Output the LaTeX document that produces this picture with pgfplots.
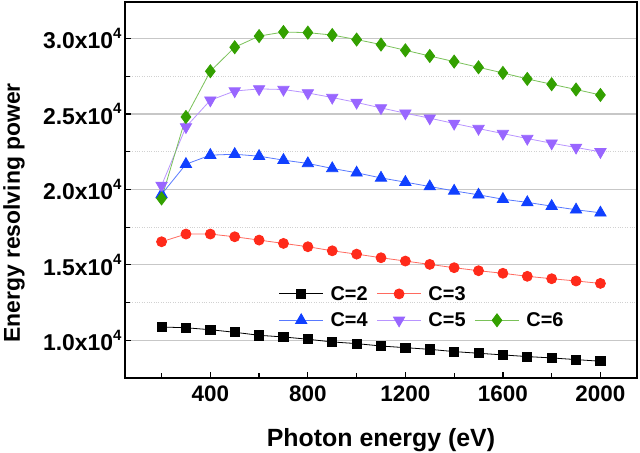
\documentclass[border=0pt]{standalone}
\usepackage{fontspec}
\setmainfont{Liberation Sans}
\usepackage{pgfplots}
\pgfplotsset{compat=1.18}
\definecolor{cred}{HTML}{FF2A1A}
\definecolor{cblue}{HTML}{1040FF}
\definecolor{cpurple}{HTML}{9966FF}
\definecolor{cgreen}{HTML}{33A000}
\newcommand{\sqf}{\raisebox{0.45em}{\fontsize{15}{15}\selectfont\bfseries 4}}
\begin{document}
\begin{tikzpicture}
\begin{axis}[
  name=ax,
  scale only axis,
  width=512bp, height=376bp,
  xmin=50, xmax=2150,
  ymin=7500, ymax=32420,
  xtick={400,800,1200,1600,2000},
  xticklabels={400,800,1200,1600,2000},
  minor xtick={200,600,1000,1400,1800},
  ytick={10000,15000,20000,25000,30000},
  yticklabels={1.0x10\sqf,1.5x10\sqf,2.0x10\sqf,2.5x10\sqf,3.0x10\sqf},
  minor ytick={12500,17500,22500,27500},
  xtick pos=bottom, ytick pos=left,
  tick align=inside,
  major tick length=6bp, minor tick length=5bp,
  every tick/.style={black, line width=1.2bp},
  axis line style={line width=1.6bp},
  ymajorgrids, yminorgrids,
  major grid style={color=black!22, line width=1.1bp},
  minor grid style={color=black!18, dotted, line width=0.8bp},
  tick label style={font=\fontsize{22.5}{22.5}\selectfont\bfseries},
  yticklabel style={font=\fontsize{23}{23}\selectfont\bfseries},
  xticklabel style={yshift=-4bp},
  xlabel={Photon energy (eV)},
  ylabel={Energy resolving power},
  every axis x label/.style={at={(rel axis cs:0.5,0)}, anchor=base, yshift=-68bp, font=\fontsize{25}{25}\selectfont\bfseries},
  every axis y label/.style={at={(rel axis cs:0,0.5)}, anchor=center, rotate=90, yshift=111bp, xshift=-23bp, font=\fontsize{23}{23}\selectfont\bfseries},
  legend columns=3,
  legend style={draw=none, fill=none, inner sep=0pt, anchor=north west,
    at={(rel axis cs:0.30,0.25)},
    font=\fontsize{20}{20}\selectfont\bfseries,
    /tikz/every even column/.append style={column sep=7bp},
    row sep=7bp},
  legend cell align=left,
  legend image code/.code={\draw[mark repeat=2,mark phase=2] plot coordinates {(0bp,0bp) (22bp,0bp) (44bp,0bp)}; \path (49bp,0bp);},
]
\addplot[black, line width=0.8bp, mark=square*, mark size=4.6bp, mark options={solid}] coordinates {
(200,10880)(300,10830)(400,10700)(500,10530)(600,10330)(700,10220)(800,10070)(900,9890)(1000,9780)(1100,9620)(1200,9510)(1300,9400)(1400,9250)(1500,9140)(1600,9030)(1700,8920)(1800,8830)(1900,8720)(2000,8610)};
\addlegendentry{C=2}
\addplot[cred!70, line width=0.8bp, mark=*, mark size=5bp, mark options={fill=cred, draw=cred}] coordinates {
(200,16530)(300,17040)(400,17040)(500,16860)(600,16640)(700,16420)(800,16200)(900,15930)(1000,15710)(1100,15470)(1200,15250)(1300,15030)(1400,14810)(1500,14610)(1600,14440)(1700,14240)(1800,14080)(1900,13930)(2000,13770)};
\addlegendentry{C=3}
\addlegendimage{empty legend}
\addlegendentry{}
\addplot[cblue!70, line width=0.8bp, mark=triangle*, mark size=6.5bp, mark options={fill=cblue, draw=cblue}] coordinates {
(200,19670)(300,21670)(400,22270)(500,22330)(600,22200)(700,21940)(800,21720)(900,21390)(1000,21100)(1100,20760)(1200,20480)(1300,20190)(1400,19900)(1500,19640)(1600,19350)(1700,19140)(1800,18890)(1900,18650)(2000,18450)};
\addlegendentry{C=4}
\addplot[cpurple!70, line width=0.8bp, mark=triangle*, mark size=6.5bp, mark options={fill=cpurple, draw=cpurple, rotate=180}] coordinates {
(200,20260)(300,24140)(400,25910)(500,26520)(600,26660)(700,26620)(800,26390)(900,26090)(1000,25760)(1100,25400)(1200,25050)(1300,24720)(1400,24370)(1500,24030)(1600,23700)(1700,23370)(1800,23060)(1900,22780)(2000,22490)};
\addlegendentry{C=5}
\addplot[cgreen!65, line width=0.8bp, mark=diamond*, mark size=6.5bp, mark options={fill=cgreen, draw=cgreen}] coordinates {
(200,19400)(300,24800)(400,27830)(500,29420)(600,30160)(700,30430)(800,30390)(900,30230)(1000,29930)(1100,29600)(1200,29220)(1300,28840)(1400,28470)(1500,28090)(1600,27720)(1700,27320)(1800,26970)(1900,26620)(2000,26260)};
\addlegendentry{C=6}
\end{axis}
\pgfresetboundingbox
\path ([xshift=-125bp,yshift=-75bp]ax.south west) rectangle ([xshift=3bp,yshift=2bp]ax.north east);
\end{tikzpicture}
\end{document}
